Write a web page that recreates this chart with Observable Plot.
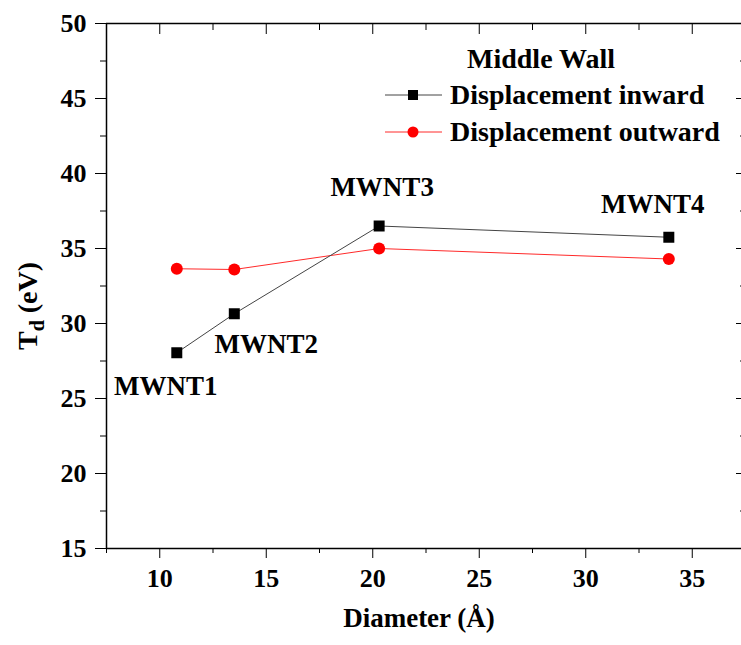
<!DOCTYPE html>
<html>
<head>
<meta charset="utf-8">
<script src="https://cdn.jsdelivr.net/npm/d3@7"></script>
<script src="https://cdn.jsdelivr.net/npm/@observablehq/plot@0.6"></script>
<style>
  html, body { margin: 0; padding: 0; background: white; overflow: hidden; }
  #chart svg { display: block; }
</style>
</head>
<body>
<div id="chart"></div>
<script>
// ---- data ----
const names = ["MWNT1", "MWNT2", "MWNT3", "MWNT4"];
const diameters = [10.8, 13.5, 20.3, 33.9];
const inward = [28.05, 30.65, 36.5, 35.75];
const outward = [33.65, 33.6, 35.0, 34.3];
const xTicks = [10, 15, 20, 25, 30, 35];
const xMinor = [7.5, 12.5, 17.5, 22.5, 27.5, 32.5, 37.5];
const yTicks = [15, 20, 25, 30, 35, 40, 45, 50];
const yMinor = [17.5, 22.5, 27.5, 32.5, 37.5, 42.5, 47.5];
const seriesNames = ["Displacement inward", "Displacement outward"];
const legendTitle = "Middle Wall";
const xLabel = "Diameter (Å)";

// label offsets (style)
const labelDx = [-11, 32, 3, -16];
const labelDy = [34, 31, -39, -33];

const font = "'Liberation Serif', 'Times New Roman', serif";
const idx = d3.range(names.length);

const chart = Plot.plot({
  width: 741,
  height: 645,
  marginLeft: 106,
  marginRight: -4,
  marginTop: 23,
  marginBottom: 97,
  style: { fontFamily: font, fontWeight: "bold", fontSize: "26px", background: "white", color: "black", overflow: "hidden" },
  x: { domain: [7.5, 37.5] },
  y: { domain: [15, 50] },
  marks: [
    Plot.axisX({ ticks: xTicks, tickSize: 10, tickPadding: 10, tickFormat: d => String(d), label: null, fontSize: 26 }),
    Plot.axisX({ ticks: xMinor, tickSize: 5, tickFormat: () => "", label: null }),
    Plot.axisX({ anchor: "top", ticks: xTicks, tickSize: -10, tickFormat: () => "", label: null }),
    Plot.axisX({ anchor: "top", ticks: xMinor, tickSize: -6, tickFormat: () => "", label: null }),
    Plot.axisY({ ticks: yTicks, tickSize: 11, tickPadding: 9, tickFormat: d => String(d), label: null, fontSize: 26 }),
    Plot.axisY({ ticks: yMinor, tickSize: 6, tickFormat: () => "", label: null }),
    Plot.axisY({ anchor: "right", ticks: yTicks, tickSize: -10, tickFormat: () => "", label: null }),
    Plot.axisY({ anchor: "right", ticks: yMinor, tickSize: -6, tickFormat: () => "", label: null }),
    Plot.ruleX([7.5, 37.5], { strokeWidth: 1.5 }),
    Plot.ruleY([15, 50], { strokeWidth: 1.5 }),
    Plot.line(idx, { x: i => diameters[i], y: i => outward[i], stroke: "#ff2a2a", strokeWidth: 1 }),
    Plot.line(idx, { x: i => diameters[i], y: i => inward[i], stroke: "#444", strokeWidth: 1 }),
    Plot.dot(idx, { x: i => diameters[i], y: i => outward[i], r: 6, fill: "#ff0000", stroke: "none" }),
    Plot.dot(idx, { x: i => diameters[i], y: i => inward[i], r: 6.2, symbol: "square", fill: "black", stroke: "none" }),
    ...idx.map(i => Plot.text([i], {
      x: d => diameters[d], y: d => inward[d], text: d => names[d],
      dx: labelDx[i], dy: labelDy[i], fontSize: 27, fontWeight: "bold", fill: "black"
    })),
    Plot.text([xLabel], { frameAnchor: "bottom", dx: -7, dy: 78, fontSize: 27, fontWeight: "bold", fill: "black" })
  ]
});

document.getElementById("chart").appendChild(chart);

// y-axis label with subscript
const svg = d3.select(chart);
const yl = svg.append("text")
  .attr("transform", "translate(37,306) rotate(-90)")
  .attr("text-anchor", "middle")
  .attr("font-family", font)
  .attr("font-weight", "bold")
  .attr("font-size", 28)
  .attr("fill", "black");
yl.append("tspan").text("T");
yl.append("tspan").attr("font-size", 20).attr("dy", 7).text("d");
yl.append("tspan").attr("dy", -7).text(" (eV)");

// legend
const lg = svg.append("g")
  .attr("font-family", font)
  .attr("font-weight", "bold")
  .attr("font-size", 28)
  .attr("text-anchor", "start")
  .attr("fill", "black");
lg.append("text").attr("x", 467).attr("y", 68).text(legendTitle);
const rows = [
  { y: 95, symbol: "square", fill: "black", lineColor: "#444" },
  { y: 132, symbol: "circle", fill: "#ff0000", lineColor: "#ff2a2a" }
];
rows.forEach((r, k) => {
  lg.append("line").attr("x1", 385).attr("x2", 442).attr("y1", r.y).attr("y2", r.y)
    .attr("stroke", r.lineColor).attr("stroke-width", 1);
  if (r.symbol === "square") {
    lg.append("rect").attr("x", 408).attr("y", r.y - 5).attr("width", 10).attr("height", 10).attr("fill", r.fill);
  } else {
    lg.append("circle").attr("cx", 413).attr("cy", r.y).attr("r", 5.5).attr("fill", r.fill);
  }
  lg.append("text").attr("x", 450).attr("y", r.y + 9).attr("text-anchor", "start").text(seriesNames[k]);
});
</script>
</body>
</html>
